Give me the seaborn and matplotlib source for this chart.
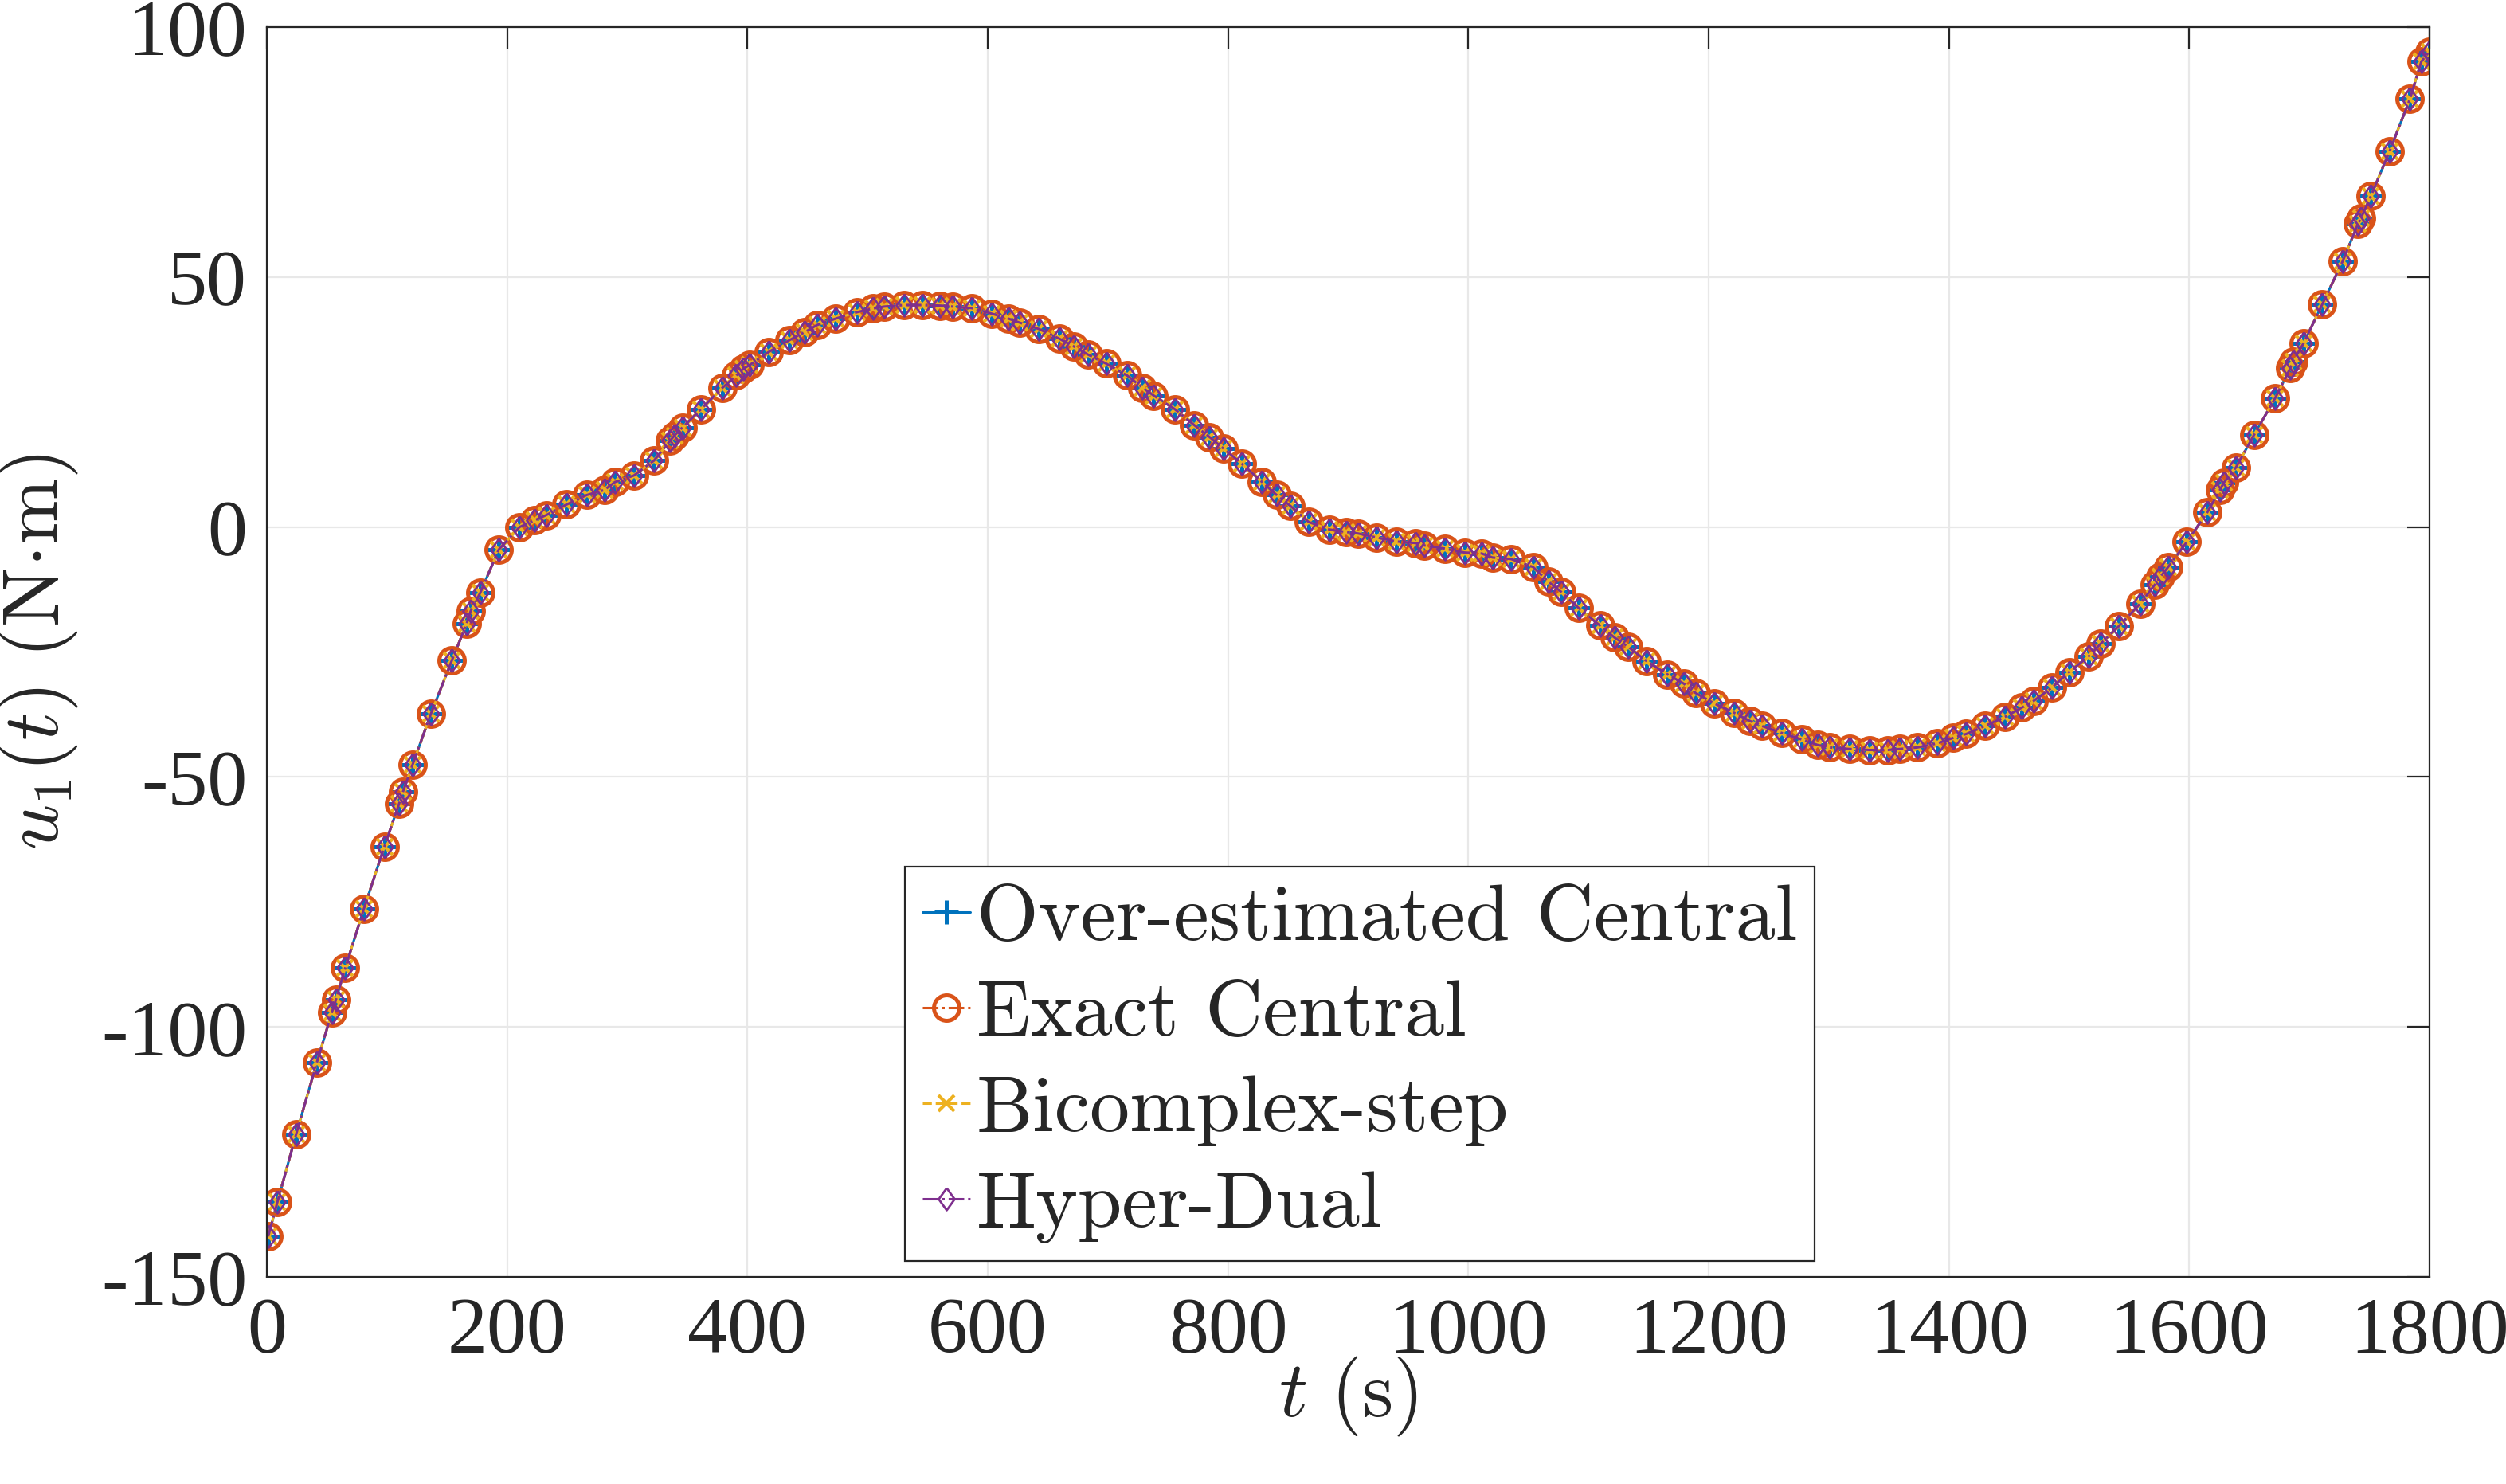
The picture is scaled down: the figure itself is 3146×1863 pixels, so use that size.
import numpy as np
import pandas as pd
import seaborn as sns
import matplotlib.pyplot as plt
from matplotlib.font_manager import FontProperties

# time samples (s) and control u1 (N.m)
t = [1.1, 8.8, 24.3, 41.6, 54.1, 57.4, 65.2, 80.7, 97.8, 110.1, 113.2, 121.3,
     136.6, 154.1, 166.3, 169.6, 177.5, 193.0, 210.3, 222.5, 232.6, 249.4,
     266.2, 280.8, 289.7, 305.4, 322.2, 335.7, 339.1, 345.8, 361.4, 378.9,
     390.6, 396.2, 401.8, 417.5, 435.0, 447.7, 457.8, 473.5, 491.4, 504.4,
     513.8, 530.2, 545.5, 560.1, 570.6, 586.4, 603.1, 617.1, 626.4, 642.7,
     659.4, 671.8, 683.4, 698.5, 716.0, 728.8, 738.1, 755.5, 771.8, 784.6,
     796.2, 811.3, 828.3, 840.4, 852.0, 867.1, 884.5, 898.5, 908.3, 923.8,
     940.4, 955.9, 963.6, 980.2, 996.8, 1011.1, 1020.0, 1035.5, 1053.8,
     1066.4, 1077.4, 1091.8, 1109.5, 1121.6, 1132.7, 1148.2, 1165.8, 1179.1,
     1189.1, 1204.8, 1221.5, 1234.3, 1244.2, 1260.8, 1277.4, 1290.7, 1300.6,
     1317.2, 1333.8, 1349.2, 1359.2, 1373.6, 1390.1, 1403.4, 1414.4, 1429.9,
     1446.5, 1460.8, 1470.3, 1485.8, 1500.0, 1516.1, 1526.0, 1541.5, 1559.2,
     1571.4, 1575.8, 1582.4, 1597.9, 1614.9, 1625.5, 1628.8, 1638.8, 1653.8,
     1671.3, 1684.1, 1686.3, 1695.2, 1710.6, 1727.7, 1740.5, 1742.7, 1751.1,
     1766.6, 1783.6, 1793.1, 1799.7]
u1 = [-141.9, -135.0, -121.5, -107.1, -97.1, -94.6, -88.2, -76.4, -63.9,
      -55.3, -53.0, -47.5, -37.3, -26.6, -19.3, -16.8, -13.2, -4.5, 0.0, 1.3,
      2.4, 4.5, 6.4, 7.4, 9.0, 10.3, 13.3, 17.3, 18.3, 19.9, 23.6, 27.8, 30.3,
      31.6, 32.4, 35.0, 37.4, 39.0, 40.4, 41.7, 43.0, 43.7, 44.1, 44.4, 44.4,
      44.3, 44.1, 43.8, 42.7, 41.7, 40.9, 39.6, 37.7, 36.1, 34.5, 32.7, 30.3,
      27.9, 26.3, 23.6, 20.4, 18.0, 15.7, 12.7, 9.0, 6.4, 4.2, 1.0, -0.5,
      -1.0, -1.3, -2.1, -2.9, -3.2, -3.7, -4.3, -5.1, -5.3, -6.1, -6.4, -8.0,
      -10.9, -13.0, -16.2, -19.7, -22.1, -23.9, -26.8, -29.5, -31.3, -33.2,
      -35.3, -37.2, -38.8, -39.8, -41.2, -42.5, -43.6, -44.1, -44.4, -44.6,
      -44.6, -44.4, -44.1, -43.3, -42.2, -41.4, -39.8, -38.0, -36.1, -34.8,
      -32.1, -29.0, -25.9, -23.4, -19.8, -15.3, -11.5, -10.0, -8.0, -3.0, 2.9,
      7.4, 8.9, 11.9, 18.4, 25.7, 31.8, 33.1, 36.8, 44.5, 53.2, 60.7, 61.7,
      66.2, 75.1, 85.6, 93.1, 95.1]

methods = ['Over-estimated Central', 'Exact Central', 'Bicomplex-step', 'Hyper-Dual']
colors = ['#0072BD', '#D95319', '#EDB120', '#7E2F8E']

sns.set_theme(style='white')
plt.rcParams['font.family'] = ['Liberation Serif', 'DejaVu Serif']
plt.rcParams['mathtext.fontset'] = 'cm'
plt.rcParams['axes.unicode_minus'] = False

df = pd.DataFrame({'t': t, 'u1': u1})

fig = plt.figure(figsize=(15.73, 9.315), dpi=200)
ax = fig.add_axes([0.1065, 0.1396, 0.863, 0.8421])

diamond = [(0, 1), (0.72, 0), (0, -1), (-0.72, 0), (0, 1)]
styles = [
    dict(marker='+', linestyle='-', markersize=10.5, mew=1.8),
    dict(marker='o', linestyle='-.', markersize=11.5, mew=1.8, mfc='none'),
    dict(marker='x', linestyle='--', markersize=7.5, mew=1.5),
    dict(marker=diamond, linestyle='-.', markersize=10, mew=1.0, mfc='none'),
]

for name, c, st in zip(methods, colors, styles):
    sns.lineplot(data=df, x='t', y='u1', ax=ax, color=c, mec=c, label=name,
                 sort=False, estimator=None, linewidth=1.1, **st)

ax.set_xlim(0, 1800)
ax.set_ylim(-150, 100)
ax.set_xticks(range(0, 1801, 200))
ax.set_yticks([-150, -100, -50, 0, 50, 100])
ax.grid(True, color='#e8e8e8', linewidth=0.8)
ax.set_axisbelow(True)
ax.tick_params(direction='in', length=10, width=0.8, top=True, right=True,
               labelsize=36, pad=9, color='#262626', labelcolor='#262626')
for sp in ax.spines.values():
    sp.set_color('#262626')
    sp.set_linewidth(0.8)

ax.set_xlabel(r'$t\ \mathrm{(s)}$', fontsize=36, color='#262626')
ax.set_ylabel(r'$u_1(t)\ \mathrm{(N{\cdot}m)}$', fontsize=36, color='#262626')
ax.xaxis.set_label_coords(0.5, -0.062)
ax.yaxis.set_label_coords(-0.0866, 0.5)

leg = ax.legend(loc='lower left', bbox_to_anchor=(0.295, 0.0127), borderaxespad=0,
                prop=FontProperties(family='cmr10', size=36), handlelength=0.6,
                handletextpad=0.08, labelspacing=0.31, borderpad=0.22,
                fancybox=False, framealpha=1, edgecolor='#262626')
leg.get_frame().set_linewidth(0.8)

fig.savefig('out.png', dpi=200)
